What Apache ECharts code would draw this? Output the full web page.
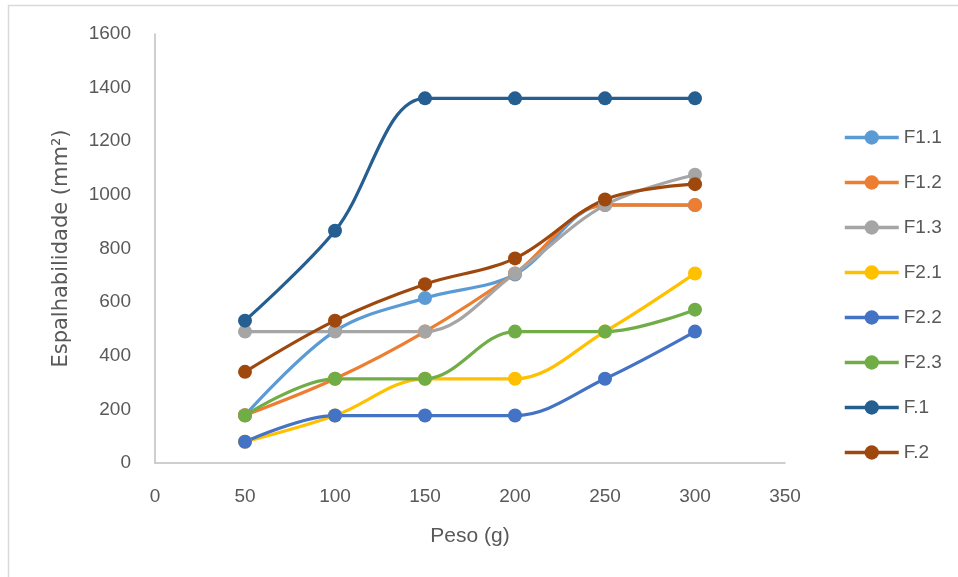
<!DOCTYPE html>
<html><head><meta charset="utf-8">
<script src="https://cdn.jsdelivr.net/npm/echarts@6/dist/echarts.min.js"></script>
<style>html,body{margin:0;padding:0;background:#fff}#c{width:958px;height:577px}</style>
</head><body><div id="c"></div>
<script>
const weights = [50, 100, 150, 200, 250, 300];
const seriesNames = ['F1.1','F1.2','F1.3','F2.1','F2.2','F2.3','F.1','F.2'];
const F1_1 = [178, 492, 615, 703, 963, 962];
const F1_2 = [178, 314, 490, 707, 962, 962];
const F1_3 = [490, 490, 490, 707, 962, 1075];
const F2_1 = [79, 177, 314, 314, 490, 707];
const F2_2 = [79, 177, 177, 177, 314, 490];
const F2_3 = [177, 314, 314, 490, 490, 572];
const F_1 = [531, 866, 1360, 1360, 1360, 1360];
const F_2 = [340, 531, 667, 763, 983, 1040];
const colors = ['#5b9bd5','#ed7d31','#a5a5a5','#ffc000','#4472c4','#70ad47','#255e91','#9e480e'];
const values = [F1_1, F1_2, F1_3, F2_1, F2_2, F2_3, F_1, F_2];
const xTicks = [0, 50, 100, 150, 200, 250, 300, 350];
const yTicks = [0, 200, 400, 600, 800, 1000, 1200, 1400, 1600];

const font = "'Liberation Sans', sans-serif";
const chart = echarts.init(document.getElementById('c'), null, {renderer:'canvas'});
chart.setOption({
  animation:false,
  color: colors,
  graphic:[{type:'rect', shape:{x:8.5,y:5.5,width:960,height:590}, style:{fill:'none', stroke:'#d9d9d9', lineWidth:1.5}, silent:true}],
  grid:{left:155, right:173, top:34, bottom:114, containLabel:false},
  xAxis:{type:'value', min:xTicks[0], max:xTicks[xTicks.length-1], interval:50,
    name:'Peso (g)', nameLocation:'middle', nameGap:63,
    nameTextStyle:{color:'#595959', fontSize:21, fontFamily:font},
    axisLine:{lineStyle:{color:'#bfbfbf', width:1.5}}, axisTick:{show:false}, splitLine:{show:false},
    axisLabel:{color:'#595959', fontSize:19, fontFamily:font, margin:24, formatter:v=>String(v)}},
  yAxis:{type:'value', min:yTicks[0], max:yTicks[yTicks.length-1], interval:200,
    name:'Espalhabilidade (mm²)', nameLocation:'middle', nameGap:83, nameRotate:90,
    nameTextStyle:{color:'#595959', fontSize:21, fontFamily:"'DejaVu Sans', sans-serif"},
    axisLine:{show:true, lineStyle:{color:'#bfbfbf', width:1.5}}, axisTick:{show:false}, splitLine:{show:false},
    axisLabel:{color:'#595959', fontSize:19, fontFamily:font, margin:24, formatter:v=>String(v)}},
  legend:{orient:'vertical', left:843, top:128, padding:0, itemWidth:54, itemHeight:18, itemGap:26,
    lineStyle:{width:3.5},
    textStyle:{color:'#595959', fontSize:19, fontFamily:font},
    data:seriesNames},
  series: seriesNames.map((n,i)=>({
    name:n, type:'line', smooth:0.35,
    data: weights.map((w,j)=>[w, values[i][j]]),
    symbol:'circle', symbolSize:14,
    lineStyle:{width:3.2, color:colors[i]},
    itemStyle:{color:colors[i]}
  }))
});
</script></body></html>
